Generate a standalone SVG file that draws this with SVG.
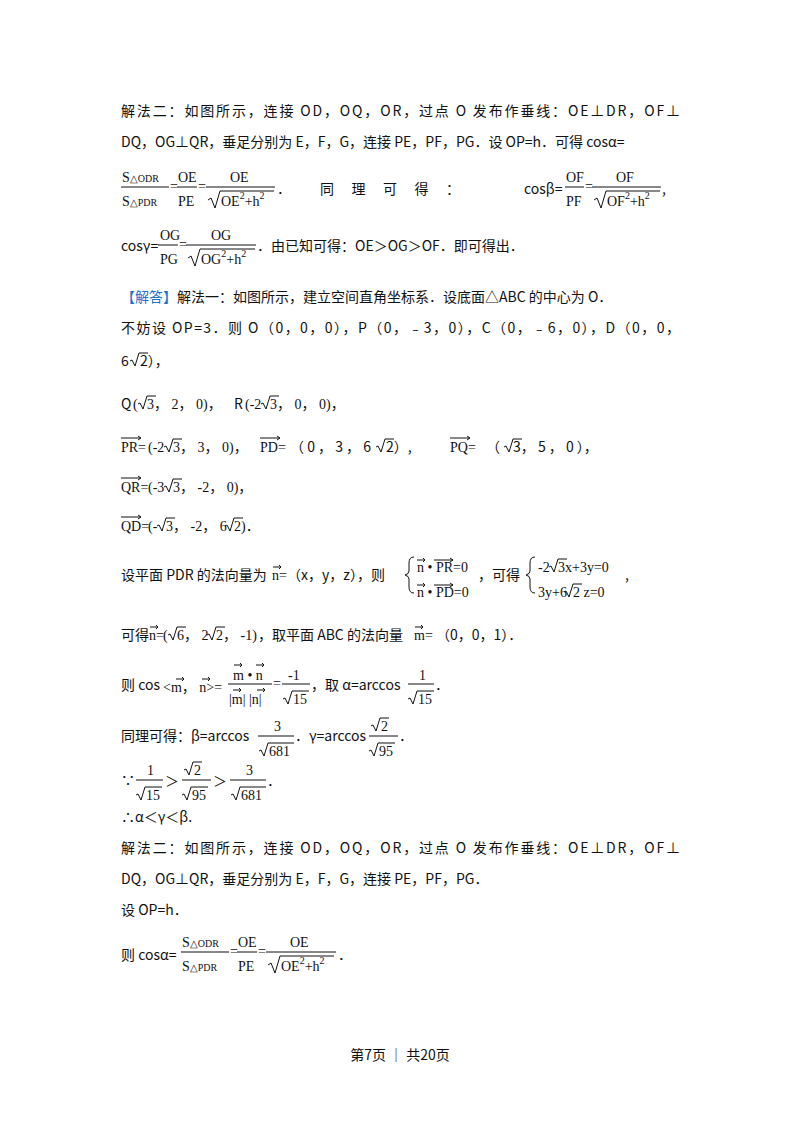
<svg xmlns="http://www.w3.org/2000/svg" width="800" height="1132" viewBox="0 0 800 1132">
<style>
.t{font-family:"Noto Sans CJK SC","Noto Sans",sans-serif;font-size:14px;fill:#111}
.m{font-family:"Liberation Serif","Noto Sans CJK SC",serif;font-size:14px;fill:#111}
.s{font-family:"Liberation Serif",serif;font-size:10px;fill:#111}
.l{stroke:#111;stroke-width:1;fill:none}
.b{fill:#1e6fd0}
</style>
<rect width="800" height="1132" fill="#fff"/>
<g id="text">
<text class="t" x="121" y="116" textLength="559" lengthAdjust="spacing">解法二：如图所示，连接 OD，OQ，OR，过点 O 发布作垂线：OE⊥DR，OF⊥</text>
<text class="t" x="121" y="147">DQ，OG⊥QR，垂足分别为 E，F，G，连接 PE，PF，PG．设 OP=h．可得 cosα=</text>
<text class="m" x="122" y="182">S<tspan class="s">△ODR</tspan></text>
<line class="l" x1="121" y1="187" x2="169" y2="187"/>
<text class="m" x="122" y="206">S<tspan class="s">△PDR</tspan></text>
<text class="m" x="170" y="191">=</text>
<text class="m" x="178" y="182">OE</text><line class="l" x1="177" y1="187" x2="197" y2="187"/><text class="m" x="178" y="206">PE</text>
<text class="m" x="198" y="191">=</text>
<text class="m" x="230" y="182">OE</text><line class="l" x1="206" y1="187" x2="275" y2="187"/>
<path class="l" d="M208 200 l3 -2 l4 10 l5 -17 h54"/>
<text class="m" x="221" y="206">OE<tspan class="s" dy="-7">2</tspan><tspan dy="7">+h</tspan><tspan class="s" dy="-7">2</tspan></text>
<text class="t" x="277" y="194">．</text>
<text class="t" x="320" y="194" textLength="140" lengthAdjust="spacing">同理可得：</text>
<text class="t" x="524" y="194">cosβ=</text>
<text class="m" x="566" y="182">OF</text><line class="l" x1="565" y1="187" x2="584" y2="187"/><text class="m" x="566" y="206">PF</text>
<text class="m" x="585" y="191">=</text>
<text class="m" x="616" y="182">OF</text><line class="l" x1="592" y1="187" x2="661" y2="187"/>
<path class="l" d="M594 200 l3 -2 l4 10 l5 -17 h54"/>
<text class="m" x="607" y="206">OF<tspan class="s" dy="-7">2</tspan><tspan dy="7">+h</tspan><tspan class="s" dy="-7">2</tspan></text>
<text class="t" x="662" y="194">,</text>
<text class="t" x="121" y="251">cosγ=</text>
<text class="m" x="160" y="240">OG</text><line class="l" x1="158" y1="245" x2="178" y2="245"/><text class="m" x="160" y="264">PG</text>
<text class="m" x="179" y="249">=</text>
<text class="m" x="211" y="240">OG</text><line class="l" x1="186" y1="245" x2="256" y2="245"/>
<path class="l" d="M188 258 l3 -2 l4 10 l5 -17 h55"/>
<text class="m" x="201" y="264">OG<tspan class="s" dy="-7">2</tspan><tspan dy="7">+h</tspan><tspan class="s" dy="-7">2</tspan></text>
<text class="t" x="257" y="251">．由已知可得：OE＞OG＞OF．即可得出．</text>
<text class="t" x="121" y="302"><tspan class="b">【解答】</tspan>解法一：如图所示，建立空间直角坐标系．设底面△ABC 的中心为 O．</text>
<text class="t" x="121" y="333" textLength="559" lengthAdjust="spacing">不妨设 OP=3．则 O（0，0，0），P（0，﹣3，0），C（0，﹣6，0），D（0，0，</text>
<text class="t" x="121" y="366">6</text><path class="l" d="M130 361 l2 -1 l3 6 l4 -13 h9"/><text class="t" x="140" y="366">2），</text>
<text class="t" x="121" y="409">Q</text>
<text class="m" x="133" y="409">(</text><path class="l" d="M138 404 l2 -1 l3 6 l4 -13 h9"/><text class="m" x="147" y="409">3， 2， 0)，</text>
<text class="t" x="234" y="409">R</text>
<text class="m" x="245" y="409">(-2</text><path class="l" d="M261 404 l2 -1 l3 6 l4 -13 h9"/><text class="m" x="270" y="409">3， 0， 0)，</text>
<text class="m" x="121" y="452">PR=</text><path class="l" d="M121 438 h20 M138 436 l3 2 l-3 2"/>
<text class="m" x="148" y="452">(-2</text><path class="l" d="M164 447 l2 -1 l3 6 l4 -13 h9"/><text class="m" x="173" y="452">3， 3， 0)，</text>
<text class="m" x="260" y="452">PD=</text><path class="l" d="M260 438 h20 M277 436 l3 2 l-3 2"/>
<text class="t" x="290" y="452">（ 0 ， 3 ， 6</text><path class="l" d="M376 447 l2 -1 l3 6 l4 -13 h9"/><text class="t" x="386" y="452">2）,</text>
<text class="m" x="450" y="452">PQ=</text><path class="l" d="M450 438 h20 M467 436 l3 2 l-3 2"/>
<text class="t" x="486" y="452">（</text><path class="l" d="M504 447 l2 -1 l3 6 l4 -13 h9"/><text class="t" x="513" y="452">3，  5 ，  0 ），</text>
<text class="m" x="121" y="492">QR=</text><path class="l" d="M121 478 h20 M138 476 l3 2 l-3 2"/>
<text class="m" x="148" y="492">(-3</text><path class="l" d="M164 487 l2 -1 l3 6 l4 -13 h9"/><text class="m" x="173" y="492">3， -2， 0)，</text>
<text class="m" x="121" y="531">QD=</text><path class="l" d="M121 517 h20 M138 515 l3 2 l-3 2"/>
<text class="m" x="148" y="531">(-</text><path class="l" d="M157 526 l2 -1 l3 6 l4 -13 h9"/><text class="m" x="166" y="531">3， -2， 6</text><path class="l" d="M225 526 l2 -1 l3 6 l4 -13 h9"/><text class="m" x="234" y="531">2)．</text>
<text class="t" x="121" y="580">设平面 PDR 的法向量为</text>
<text class="m" x="272" y="580">n=</text><path class="l" d="M273 567 h8 M279 565 l2 2 l-2 2"/>
<text class="t" x="287" y="580">（x，y，z），则</text>
<path class="l" d="M414 557 q-5 0 -5 6 v8 q0 3 -4 4 q4 1 4 4 v8 q0 6 5 6"/>
<text class="m" x="417" y="572">n • PR=0</text><path class="l" d="M417 560 h8 M423 558 l2 2 l-2 2 M434 560 h19 M450 558 l3 2 l-3 2"/>
<text class="m" x="417" y="597">n • PD=0</text><path class="l" d="M417 585 h8 M423 583 l2 2 l-2 2 M434 585 h19 M450 583 l3 2 l-3 2"/>
<text class="t" x="478" y="580">，可得</text>
<path class="l" d="M535 557 q-5 0 -5 6 v8 q0 3 -4 4 q4 1 4 4 v8 q0 6 5 6"/>
<text class="m" x="538" y="572">-2</text><path class="l" d="M549 567 l2 -1 l3 6 l4 -13 h9"/><text class="m" x="558" y="572">3x+3y=0</text>
<text class="m" x="538" y="597">3y+6</text><path class="l" d="M564 592 l2 -1 l3 6 l4 -13 h9"/><text class="m" x="573" y="597">2 z=0</text>
<text class="t" x="625" y="580">,</text>
<text class="t" x="121" y="640">可得</text>
<text class="m" x="149" y="640">n=</text><path class="l" d="M150 627 h8 M156 625 l2 2 l-2 2"/>
<text class="m" x="163" y="640">(</text><path class="l" d="M168 635 l2 -1 l3 6 l4 -13 h9"/><text class="m" x="177" y="640">6， 2</text><path class="l" d="M207 635 l2 -1 l3 6 l4 -13 h9"/><text class="m" x="216" y="640">2， -1)</text>
<text class="t" x="258" y="640">，取平面 ABC 的法向量</text>
<text class="m" x="414" y="640">m=</text><path class="l" d="M415 627 h8 M421 625 l2 2 l-2 2"/>
<text class="t" x="436" y="640">（0，0，1）．</text>
<text class="t" x="121" y="690">则 cos</text>
<text class="m" x="163" y="692">&lt;m， n&gt;=</text><path class="l" d="M176 679 h8 M182 677 l2 2 l-2 2 M202 679 h8 M208 677 l2 2 l-2 2"/>
<g transform="translate(-28,0)">
<text class="m" x="261" y="680">m • n</text><path class="l" d="M262 665 h8 M268 663 l2 2 l-2 2 M284 665 h8 M290 663 l2 2 l-2 2"/>
<line class="l" x1="256" y1="684" x2="300" y2="684"/>
<text class="m" x="257" y="704">|m| |n|</text><path class="l" d="M261 690 h8 M267 688 l2 2 l-2 2 M285 690 h8 M291 688 l2 2 l-2 2"/>
<text class="m" x="301" y="688">=</text>
<text class="m" x="316" y="680">-1</text><line class="l" x1="310" y1="684" x2="338" y2="684"/>
<path class="l" d="M311 699 l2 -1 l3 6 l4 -13 h17"/><text class="m" x="321" y="704">15</text>
<text class="t" x="339" y="690">，取 α=arccos</text>
<text class="m" x="447" y="680">1</text><line class="l" x1="436" y1="684" x2="462" y2="684"/>
<path class="l" d="M436 699 l2 -1 l3 6 l4 -13 h17"/><text class="m" x="446" y="704">15</text>
<text class="t" x="463" y="690">．</text>
</g>
<text class="t" x="121" y="741">同理可得：β=arccos</text>
<text class="m" x="274" y="731">3</text><line class="l" x1="258" y1="736" x2="294" y2="736"/>
<path class="l" d="M259 751 l2 -1 l3 6 l4 -13 h26"/><text class="m" x="269" y="756">681</text>
<text class="t" x="295" y="741">．γ=arccos</text>
<path class="l" d="M371 726 l2 -1 l3 6 l4 -13 h9"/><text class="m" x="381" y="731">2</text><line class="l" x1="369" y1="736" x2="398" y2="736"/>
<path class="l" d="M369 751 l2 -1 l3 6 l4 -13 h17"/><text class="m" x="379" y="756">95</text>
<text class="t" x="399" y="741">．</text>
<text class="t" x="121" y="785">∵</text>
<text class="m" x="147" y="775">1</text><line class="l" x1="136" y1="780" x2="163" y2="780"/>
<path class="l" d="M136 795 l2 -1 l3 6 l4 -13 h17"/><text class="m" x="146" y="800">15</text>
<text class="t" x="165" y="786">＞</text>
<path class="l" d="M184 770 l2 -1 l3 6 l4 -13 h9"/><text class="m" x="194" y="775">2</text><line class="l" x1="182" y1="780" x2="211" y2="780"/>
<path class="l" d="M182 795 l2 -1 l3 6 l4 -13 h17"/><text class="m" x="192" y="800">95</text>
<text class="t" x="213" y="786">＞</text>
<text class="m" x="246" y="775">3</text><line class="l" x1="230" y1="780" x2="266" y2="780"/>
<path class="l" d="M231 795 l2 -1 l3 6 l4 -13 h26"/><text class="m" x="241" y="800">681</text>
<text class="t" x="267" y="786">．</text>
<text class="t" x="121" y="822">∴α＜γ＜β.</text>
<text class="t" x="121" y="853" textLength="559" lengthAdjust="spacing">解法二：如图所示，连接 OD，OQ，OR，过点 O 发布作垂线：OE⊥DR，OF⊥</text>
<text class="t" x="121" y="884">DQ，OG⊥QR，垂足分别为 E，F，G，连接 PE，PF，PG．</text>
<text class="t" x="121" y="915">设 OP=h．</text>
<text class="t" x="121" y="960">则 cosα=</text>
<text class="m" x="182" y="947">S<tspan class="s">△ODR</tspan></text>
<line class="l" x1="181" y1="952" x2="229" y2="952"/>
<text class="m" x="182" y="971">S<tspan class="s">△PDR</tspan></text>
<text class="m" x="230" y="956">=</text>
<text class="m" x="238" y="947">OE</text><line class="l" x1="237" y1="952" x2="257" y2="952"/><text class="m" x="238" y="971">PE</text>
<text class="m" x="258" y="956">=</text>
<text class="m" x="290" y="947">OE</text><line class="l" x1="266" y1="952" x2="336" y2="952"/>
<path class="l" d="M268 965 l3 -2 l4 10 l5 -17 h54"/>
<text class="m" x="281" y="971">OE<tspan class="s" dy="-7">2</tspan><tspan dy="7">+h</tspan><tspan class="s" dy="-7">2</tspan></text>
<text class="t" x="338" y="960">．</text>
<text class="t" x="400" y="1060" text-anchor="middle" font-size="12">第7页 ｜ 共20页</text>
</g>
</svg>
